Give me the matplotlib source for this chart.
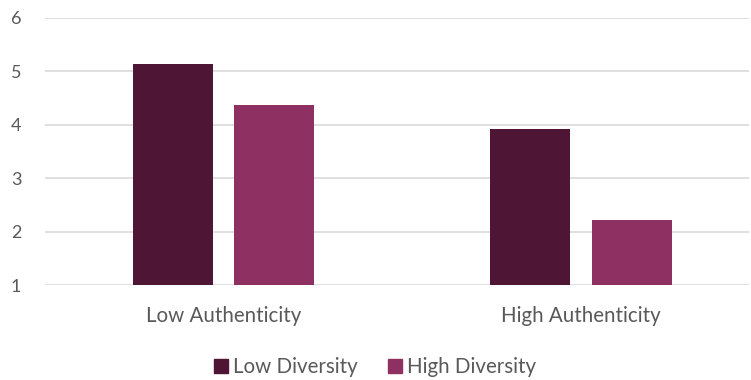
import numpy as np
import matplotlib.pyplot as plt
from matplotlib.patches import Patch

# group labels and mean scores per diversity condition
groups = ['Low Authenticity', 'High Authenticity']
series_names = ['Low Diversity', 'High Diversity']
low_diversity = [5.13, 3.92]
high_diversity = [4.37, 2.22]
colors = ['#4E1534', '#8E3162']

plt.rcParams['font.family'] = ['Lato', 'DejaVu Sans']
text_color = '#595959'

fig = plt.figure(figsize=(7.51, 3.80), dpi=100)
ax = fig.add_axes([45 / 751, 95 / 380, 704 / 751, 267 / 380])

x = np.arange(len(groups))
width = 0.224
offset = 0.142
ax.bar(x - offset, low_diversity, width, bottom=0, color=colors[0], zorder=3)
ax.bar(x + offset, high_diversity, width, bottom=0, color=colors[1], zorder=3)

ax.set_ylim(1, 6)
ax.set_xlim(-0.499, 1.47)
ax.set_yticks(range(1, 7))
ax.set_xticks(x)
ax.set_xticklabels(groups)
ax.yaxis.grid(True, color='#D9D9D9', linewidth=1.2, zorder=0)
ax.tick_params(axis='y', length=0, labelsize=13, labelcolor=text_color, pad=17)
ax.tick_params(axis='x', length=0, labelsize=14.8, labelcolor=text_color, pad=15)
for s in ax.spines.values():
    s.set_visible(False)

handles = [Patch(color=c, label=n) for c, n in zip(colors, series_names)]
fig.legend(handles=handles, loc='center', bbox_to_anchor=(375 / 751, 1 - 367 / 380),
           ncol=2, frameon=False, fontsize=14.8, handlelength=0.65, handleheight=0.65,
           handletextpad=0.25, columnspacing=1.5, labelcolor=text_color)

fig.savefig('out.png', dpi=100)
